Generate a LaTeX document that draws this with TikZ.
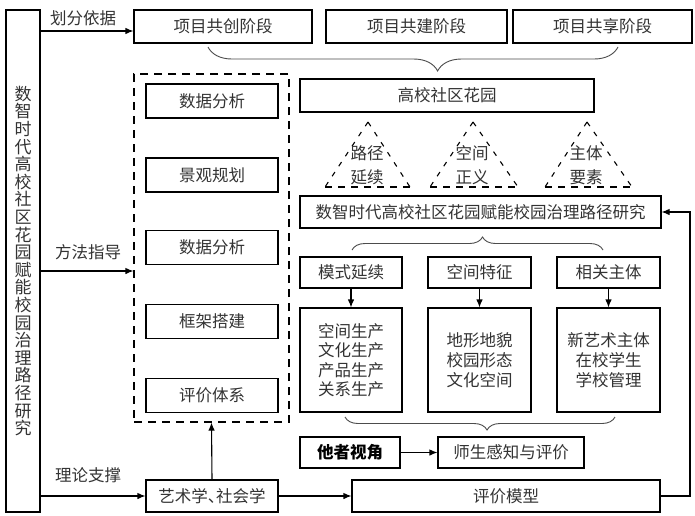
\documentclass[tikz,border=0pt]{standalone}
\usepackage{fontspec}
\setmainfont{Noto Sans CJK SC}
\usetikzlibrary{arrows.meta,decorations.pathreplacing,calc}
\begin{document}
\begin{tikzpicture}[x=1pt,y=-1pt,
  every node/.style={font=\fontsize{16.5}{19}\selectfont, text=black!80},
  bx/.style={draw=black, line width=1.1pt, inner sep=0pt, align=center},
  arr/.style={-{Latex[length=8pt,width=6.5pt]}, line width=1.1pt, draw=black},
  ln/.style={line width=1.1pt, draw=black},
  brc/.style={draw=black!70, line width=0.9pt, decorate},
  tri/.style={line width=1.1pt, dash pattern=on 5pt off 7pt},
  trib/.style={line width=1.1pt, dash pattern=on 7pt off 6pt},
  lbl/.style={font=\fontsize{16.5}{19}\selectfont}]
\useasboundingbox (0,0) rectangle (695,515);
\fill[white] (0,0) rectangle (695,515);

% left vertical box
\node[bx, minimum width=34pt, minimum height=502pt, font=\fontsize{17}{17.6}\selectfont] (lb) at (23,261)
  {数\\智\\时\\代\\高\\校\\社\\区\\花\\园\\赋\\能\\校\\园\\治\\理\\路\\径\\研\\究};

% top stage boxes
\node[bx, minimum width=178pt, minimum height=33pt] (s1) at (223,26.5) {项目共创阶段};
\node[bx, minimum width=181pt, minimum height=33pt] (s2) at (416.5,26.5) {项目共建阶段};
\node[bx, minimum width=179pt, minimum height=33pt] (s3) at (602.5,26.5) {项目共享阶段};

% dashed method box
\node[draw=black, line width=1.1pt, dash pattern=on 8pt off 6pt, minimum width=155pt, minimum height=348pt, inner sep=0pt] (db) at (211.5,248) {};
\node[bx, minimum width=132pt, minimum height=34pt] (m1) at (212,101) {数据分析};
\node[bx, minimum width=132pt, minimum height=34pt] (m2) at (212,175) {景观规划};
\node[bx, minimum width=132pt, minimum height=34pt] (m3) at (212,247.5) {数据分析};
\node[bx, minimum width=132pt, minimum height=34pt] (m4) at (212,321.5) {框架搭建};
\node[bx, minimum width=132pt, minimum height=34pt] (m5) at (212,395.5) {评价体系};

% garden and main research boxes
\node[bx, minimum width=294pt, minimum height=33pt] (gd) at (447,95.5) {高校社区花园};
\node[bx, minimum width=361pt, minimum height=32pt] (rs) at (480.5,212) {数智时代高校社区花园赋能校园治理路径研究};

% dashed triangles
\foreach \ax/\bl/\br/\tx [count=\i] in {368/325/410/{路径\\延续}, 473/430/518/{空间\\正义}, 587/545/632/{主体\\要素}}{
  \coordinate (ap\i) at (\ax,122);
  \coordinate (tl\i) at (\bl,187);
  \coordinate (tr\i) at (\br,187);
  \draw[tri] (ap\i) -- (tl\i);
  \draw[tri] (ap\i) -- (tr\i);
  \draw[trib] (tl\i) -- (tr\i);
  \node[align=center, font=\fontsize{16.5}{24}\selectfont] (tt\i) at (\ax-1,165) {\tx};
}

% three aspect boxes
\node[bx, minimum width=102pt, minimum height=31pt] (a1) at (351,272.5) {模式延续};
\node[bx, minimum width=103pt, minimum height=31pt] (a2) at (479.5,272.5) {空间特征};
\node[bx, minimum width=103pt, minimum height=31pt] (a3) at (608.5,272.5) {相关主体};

\node[bx, minimum width=102pt, minimum height=104pt, font=\fontsize{16.5}{19.5}\selectfont] (c1) at (351,360) {空间生产\\文化生产\\产品生产\\关系生产};
\node[bx, minimum width=103pt, minimum height=104pt, font=\fontsize{16.5}{20}\selectfont] (c2) at (479.5,360) {地形地貌\\校园形态\\文化空间};
\node[bx, minimum width=103pt, minimum height=104pt, font=\fontsize{16.5}{20}\selectfont] (c3) at (608.5,360) {新艺术主体\\在校学生\\学校管理};

% bottom boxes
\node[bx, minimum width=100pt, minimum height=31pt, font=\fontsize{16.5}{19}\bfseries, text=black] (ot) at (350,452.5) {他者视角};
\node[bx, minimum width=146pt, minimum height=31pt] (pe) at (511,452.5) {师生感知与评价};
\node[bx, minimum width=308pt, minimum height=32pt] (em) at (506,496) {评价模型};
\node[bx, minimum width=132pt, minimum height=32pt] (th) at (212,496) {艺术学、\kern-0.5em社会学};

% labels
\node[lbl] (l1) at (83,18) {划分依据};
\node[lbl] (l2) at (88,252) {方法指导};
\node[lbl] (l3) at (88,475) {理论支撑};

% left arrows
\draw[arr] (lb.east |- 0,31) -- (s1.west |- 0,31);
\draw[arr] (lb.east |- 0,271) -- (db.west |- 0,271);
\draw[arr] (lb.east |- th.west) -- (th.west);
\draw[arr] (th.north) -- (db.south);
\draw[arr] (th.east) -- (em.west);

% aspect arrows
\draw[arr] (a1.south) -- (c1.north);
\draw[arr] (a2.south) -- (c2.north);
\draw[arr] (a3.south) -- (c3.north);
\draw[arr] (ot.east) -- (pe.west);

% feedback loop
\coordinate (fb1) at (690,496);
\coordinate (fb2) at (690,212);
\draw[arr] (em.east) -- (fb1) -- (fb2) -- (rs.east);

% braces
\draw[brc, decoration={brace, mirror, amplitude=24pt, aspect=0.56}] (208,47) -- (618,47);
\draw[brc, decoration={brace, amplitude=13pt, aspect=0.52}] (352,250) -- (603,250);
\draw[brc, decoration={brace, mirror, amplitude=13pt, aspect=0.526}] (345,417) -- (615,417);
\end{tikzpicture}
\end{document}
